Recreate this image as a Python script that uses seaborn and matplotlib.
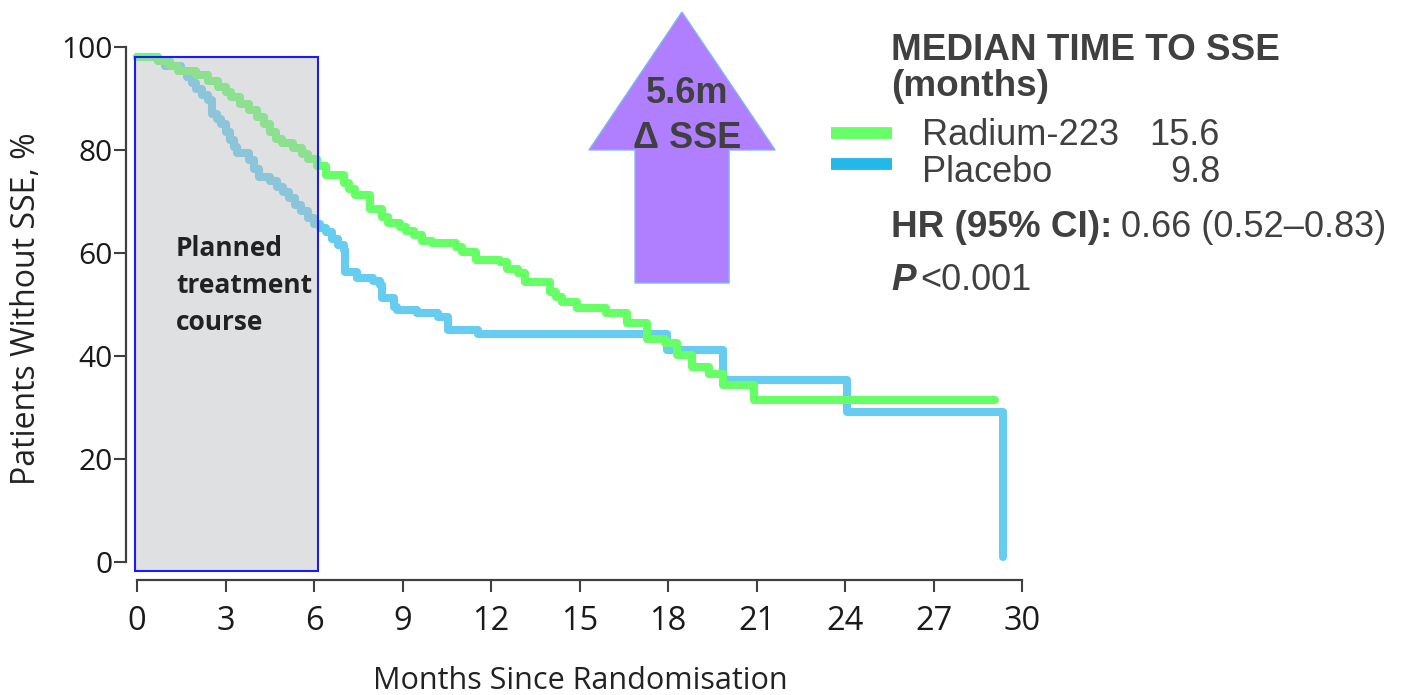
import matplotlib
matplotlib.use("Agg")
import matplotlib.pyplot as plt
from matplotlib.patches import Rectangle, Polygon
from matplotlib.lines import Line2D
import pandas as pd
import seaborn as sns

# Kaplan-Meier steps (months, % without SSE)
months_radium = [0.0, 0.7, 1.1, 1.4, 2.0, 2.4, 2.75, 3.0, 3.2, 3.5, 3.8, 4.05, 4.3, 4.5, 4.7,
                 4.9, 5.3, 5.6, 5.8, 6.1, 6.4, 7.0, 7.2, 7.4, 7.9, 8.3, 8.5, 8.9, 9.1, 9.4,
                 9.65, 10.0, 10.8, 11.0, 11.5, 12.3, 12.55, 12.9, 13.15, 14.0, 14.2, 14.4,
                 14.9, 15.9, 16.6, 17.3, 17.9, 18.3, 18.8, 19.4, 19.85, 20.9, 29.1]
pct_radium = [98.0, 97.3, 96.3, 95.3, 94.5, 93.3, 92.2, 91.2, 90.3, 89.0, 87.8, 86.5, 85.0, 83.5, 82.2,
              81.3, 80.4, 79.3, 78.3, 76.8, 75.1, 73.6, 72.4, 71.3, 68.5, 67.0, 65.8, 65.0, 64.2, 63.4,
              62.3, 61.9, 61.2, 60.2, 58.7, 58.3, 56.9, 56.1, 54.4, 52.5, 51.5, 50.5,
              49.4, 48.3, 46.4, 43.3, 42.5, 40.2, 37.8, 36.5, 34.4, 31.5, 31.5]

months_placebo = [0.0, 0.7, 0.95, 1.5, 1.7, 1.85, 2.0, 2.2, 2.4, 2.55, 2.7, 2.85, 3.0, 3.15, 3.3,
                  3.4, 3.8, 3.95, 4.15, 4.5, 4.75, 4.95, 5.15, 5.35, 5.55, 5.8, 6.0, 6.2, 6.4, 6.6,
                  6.8, 7.0, 7.05, 7.45, 8.0, 8.25, 8.3, 8.7, 8.8, 9.5, 10.2, 10.55, 11.55, 17.95,
                  19.85, 24.05, 29.35]
pct_placebo = [98.0, 97.2, 96.4, 95.4, 94.2, 93.0, 91.8, 90.7, 89.8, 87.0, 86.0, 85.0, 83.5, 82.0, 80.5,
               79.4, 78.0, 76.3, 74.8, 74.0, 72.8, 71.8, 70.6, 69.4, 68.2, 66.8, 65.6, 64.8, 64.0, 62.8,
               61.6, 60.6, 56.3, 55.1, 54.5, 53.8, 51.3, 49.5, 48.9, 48.3, 47.6, 45.0, 44.3, 41.2,
               35.3, 29.1, 1.0]

arm_names = ["Radium-223", "Placebo"]
median_months = ["15.6", "9.8"]
x_ticks = list(range(0, 31, 3))
y_ticks = list(range(0, 101, 20))

sns.set_style("ticks")
plt.rcParams["font.family"] = ["Open Sans", "DejaVu Sans"]

df = pd.concat([
    pd.DataFrame({"months": months_placebo, "pct": pct_placebo, "arm": "Placebo"}),
    pd.DataFrame({"months": months_radium, "pct": pct_radium, "arm": "Radium-223"}),
], ignore_index=True)

W, H = 1402, 695
fig = plt.figure(figsize=(W / 100, H / 100), dpi=100)
ax = fig.add_axes([0.0946, 0.1751, 0.6386, 0.761])

sns.lineplot(
    data=df, x="months", y="pct", hue="arm",
    hue_order=["Placebo", "Radium-223"],
    palette={"Radium-223": "#66ff66", "Placebo": "#66ccf0"},
    estimator=None, sort=False, drawstyle="steps-post",
    linewidth=5.8, solid_capstyle="round", solid_joinstyle="round",
    legend=False, ax=ax, zorder=2,
)

ax.set_xlim(-0.15, 30.2)
ax.set_ylim(-2.2, 100.5)

# planned treatment course box (semi-transparent over the curves)
ax.add_patch(Rectangle((-0.07, -1.75), 6.2, 99.85,
                       facecolor=(186 / 255, 188 / 255, 192 / 255, 0.46),
                       edgecolor="#1a1aff", linewidth=1.5, zorder=3))
ax.text(1.32, 45.0, "Planned\ntreatment\ncourse", fontsize=19, fontweight="bold",
        color="#222222", ha="left", va="baseline", linespacing=1.48, zorder=4)

# arrow with difference in median
arrow = Polygon([(18.47, 106.8), (21.63, 80.0), (20.07, 80.0), (20.07, 54.17),
                 (16.88, 54.17), (16.88, 80.0), (15.32, 80.0)], closed=True,
                facecolor="#b07fff", edgecolor="#7fb8ef", linewidth=1, clip_on=False, zorder=3)
ax.add_patch(arrow)
ax.text(18.64, 89.1, "5.6m", fontsize=26, fontweight="bold", color="#404040",
        family="Liberation Sans", ha="center", va="baseline", zorder=4, clip_on=False)
ax.text(18.64, 80.4, "Δ SSE", fontsize=26, fontweight="bold", color="#404040",
        family="Liberation Sans", ha="center", va="baseline", zorder=4, clip_on=False)

# axes styling
sns.despine(ax=ax)
ax.spines["left"].set_position(("outward", 4.75))
ax.spines["bottom"].set_position(("outward", 4.8))
ax.spines["left"].set_bounds(0, 100)
ax.spines["bottom"].set_bounds(0, 30)
for s in ["left", "bottom"]:
    ax.spines[s].set_color("#404040")
    ax.spines[s].set_linewidth(1.6)

ax.set_xticks(x_ticks)
ax.set_yticks(y_ticks)
ax.tick_params(axis="both", length=8.6, width=1.5, color="#404040", labelcolor="#1a1a1a")
ax.tick_params(axis="x", labelsize=23.5, pad=9.5)
ax.tick_params(axis="y", labelsize=21.5, pad=1)

ax.set_xlabel("Months Since Randomisation", fontsize=22, color="#222222")
ax.set_ylabel("Patients Without SSE, %", fontsize=23, color="#222222")
ax.xaxis.set_label_coords(0.5, -0.2187)
ax.xaxis.label.set_va("baseline")
ax.yaxis.set_label_coords(-0.1001, 0.5)


# right-hand summary panel (figure pixel positions)
def fx(px):
    return px / W


def fy(py):
    return 1 - py / H


panel = dict(family="Liberation Sans", fontsize=26, color="#404040", va="baseline")
bold_panel = dict(panel, fontsize=26.6, fontweight="bold")
fig.text(fx(891), fy(60), "MEDIAN TIME TO SSE", **bold_panel)
fig.text(fx(891), fy(96), "(months)", **bold_panel)

legend_colors = ["#66ff66", "#22b8e8"]
legend_y = [132.7, 164.3]
text_y = [145, 181.7]
for name, med, col, ly, ty in zip(arm_names, median_months, legend_colors, legend_y, text_y):
    fig.add_artist(Line2D([fx(831), fx(892)], [fy(ly), fy(ly)], color=col,
                          linewidth=8.5, solid_capstyle="butt"))
    fig.text(fx(922), fy(ty), name, **panel)
    fig.text(fx(1220), fy(ty), med, ha="right", **panel)

fig.text(fx(891), fy(236.7), "HR (95% CI):", **bold_panel)
fig.text(fx(1121), fy(236.7), "0.66 (0.52–0.83)", **panel)
fig.text(fx(891), fy(290), "P", style="italic", **bold_panel)
fig.text(fx(920), fy(290), "<0.001", **panel)

fig.savefig("out.png", dpi=100)
